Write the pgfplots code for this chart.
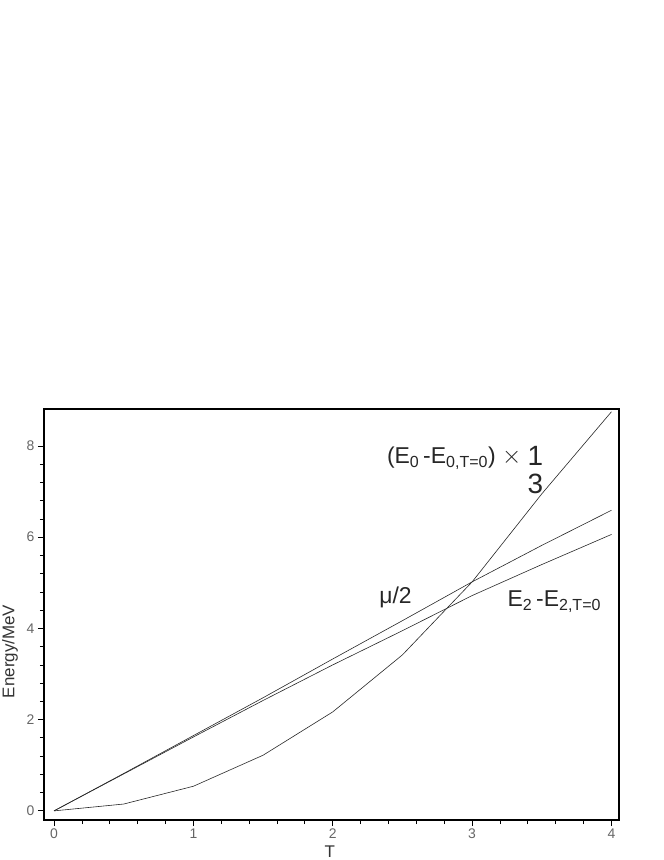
\documentclass[border=0pt]{standalone}
\usepackage{fontspec}
\setmainfont{Liberation Sans}
\usepackage{pgfplots}
\pgfplotsset{compat=1.18}
\begin{document}
\begin{tikzpicture}
\useasboundingbox (-44bp,-40bp) rectangle (620bp,820bp);
\begin{axis}[
  at={(0,0)}, anchor=south west,
  scale only axis, width=575bp, height=411bp,
  xmin=-0.072, xmax=4.054, ymin=-0.2, ymax=8.81,
  xtick={0,1,2,3,4}, ytick={0,2,4,6,8},
  minor x tick num=4, minor y tick num=4,
  tick align=outside, tick pos=left,
  major tick length=6bp, minor tick length=4bp,
  axis line style={line width=1.5pt},
  every tick/.style={black, line width=0.8pt},
  /pgf/number format/assume math mode=true,
  tick label style={font=\fontsize{14}{14}\selectfont, text=black!60},
  xticklabel style={yshift=1bp},
  xlabel={T}, ylabel={Energy/MeV},
  label style={font=\fontsize{17}{17}\selectfont, text=black!80},
  xlabel style={at={(axis description cs:0.497,-0.076)}, anchor=center},
  ylabel style={at={(axis description cs:-0.059,0.41)}, anchor=center, rotate=0},
  clip=false,
]
\addplot[black!85, line width=0.6pt] coordinates {
 (0,0) (0.5,0.15) (1,0.54) (1.5,1.22) (2,2.17) (2.5,3.42) (3,5.02) (3.5,6.95) (4,8.75)};
\addplot[black!85, line width=0.6pt] coordinates {
 (0,0) (0.5,0.82) (1,1.65) (1.5,2.48) (2,3.33) (2.5,4.17) (3,5.02) (3.5,5.82) (4,6.59)};
\addplot[black!85, line width=0.6pt] coordinates {
 (0,0) (0.5,0.81) (1,1.62) (1.5,2.42) (2,3.20) (2.5,3.95) (3,4.72) (3.5,5.40) (4,6.06)};
\node[font=\fontsize{23}{23}\selectfont, text=black!85, inner sep=0pt] at (axis cs:2.95,7.38)
  {(E\textsubscript{0}\,-E\textsubscript{0,T=0}) $\times$ \raisebox{-0.5\height}{\fontsize{28}{28}\selectfont\begin{tabular}{@{}c@{}}1\\[0pt]3\end{tabular}}};
\node[font=\fontsize{23}{23}\selectfont, text=black!85, inner sep=0pt] at (axis cs:2.45,4.69) {μ/2};
\node[font=\fontsize{23}{23}\selectfont, text=black!85, inner sep=0pt] at (axis cs:3.59,4.58)
  {E\textsubscript{2}\,-E\textsubscript{2,T=0}};
\end{axis}
\end{tikzpicture}
\end{document}
